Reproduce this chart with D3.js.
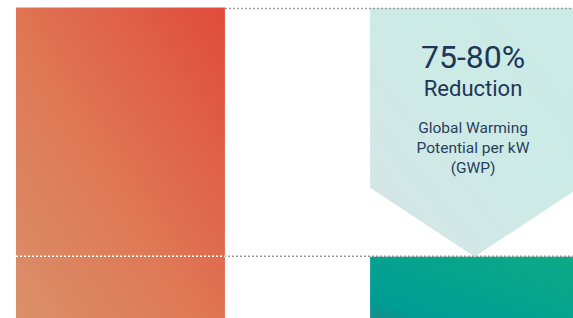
<!DOCTYPE html>
<html>
<head>
<meta charset="utf-8">
<script src="https://cdn.jsdelivr.net/npm/d3@7"></script>
<style>
  html, body { margin: 0; padding: 0; background: #ffffff; }
  svg { display: block; font-family: Roboto, 'Noto Sans', sans-serif; }
</style>
</head>
<body>
<div id="chart"></div>
<script>
'use strict';

// chart values (relative GWP per kW, conventional = 100)
var categories = ['Conventional', 'New'];
var values = [100, 22];
var headline = '75-80%';
var subline = 'Reduction';
var noteLines = ['Global Warming', 'Potential per kW', '(GWP)'];

var width = 573,
    height = 318;

var svg = d3.select('#chart')
    .append('svg')
    .attr('width', width)
    .attr('height', height);

// bars run off the bottom of the frame, baseline sits below it
var x = d3.scaleBand()
    .domain(categories)
    .range([16, 579])
    .paddingInner(0.41)
    .paddingOuter(0);

var y = d3.scaleLinear()
    .domain([0, 100])
    .range([327, 7.5]);

var defs = svg.append('defs');

var gradOrange = defs.append('linearGradient')
    .attr('id', 'g-orange')
    .attr('x1', '0%').attr('y1', '100%')
    .attr('x2', '100%').attr('y2', '0%');
gradOrange.append('stop').attr('offset', '0%').attr('stop-color', '#d9916a');
gradOrange.append('stop').attr('offset', '45%').attr('stop-color', '#df7855');
gradOrange.append('stop').attr('offset', '100%').attr('stop-color', '#e04b3c');

var gradGreen = defs.append('linearGradient')
    .attr('id', 'g-green')
    .attr('x1', '0%').attr('y1', '100%')
    .attr('x2', '100%').attr('y2', '0%');
gradGreen.append('stop').attr('offset', '0%').attr('stop-color', '#22857d');
gradGreen.append('stop').attr('offset', '20%').attr('stop-color', '#009d96');
gradGreen.append('stop').attr('offset', '100%').attr('stop-color', '#0daa85');

var gradCallout = defs.append('linearGradient')
    .attr('id', 'g-callout')
    .attr('x1', '0%').attr('y1', '100%')
    .attr('x2', '100%').attr('y2', '0%');
gradCallout.append('stop').attr('offset', '0%').attr('stop-color', '#d6e4e6');
gradCallout.append('stop').attr('offset', '50%').attr('stop-color', '#cdeae6');
gradCallout.append('stop').attr('offset', '100%').attr('stop-color', '#cbebe5');

var fills = ['url(#g-orange)', 'url(#g-green)'];

// ================ bars
svg.selectAll('rect.bar')
    .data(values)
    .enter()
    .append('rect')
    .attr('class', 'bar')
    .attr('x', function(d, i){ return x(categories[i]); })
    .attr('y', function(d){ return y(d); })
    .attr('width', x.bandwidth())
    .attr('height', function(d){ return y(0) - y(d); })
    .attr('fill', function(d, i){ return fills[i]; });

// ================ callout arrow between the two levels
var bx = x(categories[1]),
    bw = x.bandwidth(),
    topY = y(values[0]) + 0.5,
    tipY = y(values[1]),
    shoulderY = tipY - bw / 2 * 0.66;

svg.append('path')
    .attr('d', 'M' + bx + ',' + topY +
        'L' + (bx + bw) + ',' + topY +
        'L' + (bx + bw) + ',' + shoulderY +
        'L' + (bx + bw / 2) + ',' + tipY +
        'L' + bx + ',' + shoulderY + 'Z')
    .attr('fill', 'url(#g-callout)');

// ================ dotted level lines
var x0 = x(categories[0]), x0r = x0 + x.bandwidth();

svg.append('line')
    .attr('x1', x0r).attr('x2', width)
    .attr('y1', y(values[0]) + 1).attr('y2', y(values[0]) + 1)
    .attr('stroke', '#9a9a9a')
    .attr('stroke-width', 1.5)
    .attr('stroke-dasharray', '2,2');

svg.append('line')
    .attr('x1', x0).attr('x2', width)
    .attr('y1', y(values[1]) - 0.5).attr('y2', y(values[1]) - 0.5)
    .attr('stroke', '#9a9a9a')
    .attr('stroke-width', 1.5)
    .attr('stroke-dasharray', '2,2');

svg.append('line')
    .attr('x1', x0).attr('x2', x0r)
    .attr('y1', y(values[1]) - 0.5).attr('y2', y(values[1]) - 0.5)
    .attr('stroke', '#ffffff')
    .attr('stroke-width', 1.5)
    .attr('stroke-dasharray', '2,2');

// ================ callout text
var cx = bx + bw / 2 - 1.5,
    ink = '#1d3557';

svg.append('text')
    .attr('x', cx).attr('y', 68)
    .attr('text-anchor', 'middle')
    .attr('font-size', '32px')
    .attr('fill', ink)
    .text(headline);

svg.append('text')
    .attr('x', cx).attr('y', 96)
    .attr('text-anchor', 'middle')
    .attr('font-size', '22px')
    .attr('fill', ink)
    .text(subline);

svg.selectAll('text.note')
    .data(noteLines)
    .enter()
    .append('text')
    .attr('class', 'note')
    .attr('x', cx)
    .attr('y', function(d, i){ return 133 + i * 20; })
    .attr('text-anchor', 'middle')
    .attr('font-size', '15.5px')
    .attr('fill', '#2a3f5c')
    .text(function(d){ return d; });
</script>
</body>
</html>
